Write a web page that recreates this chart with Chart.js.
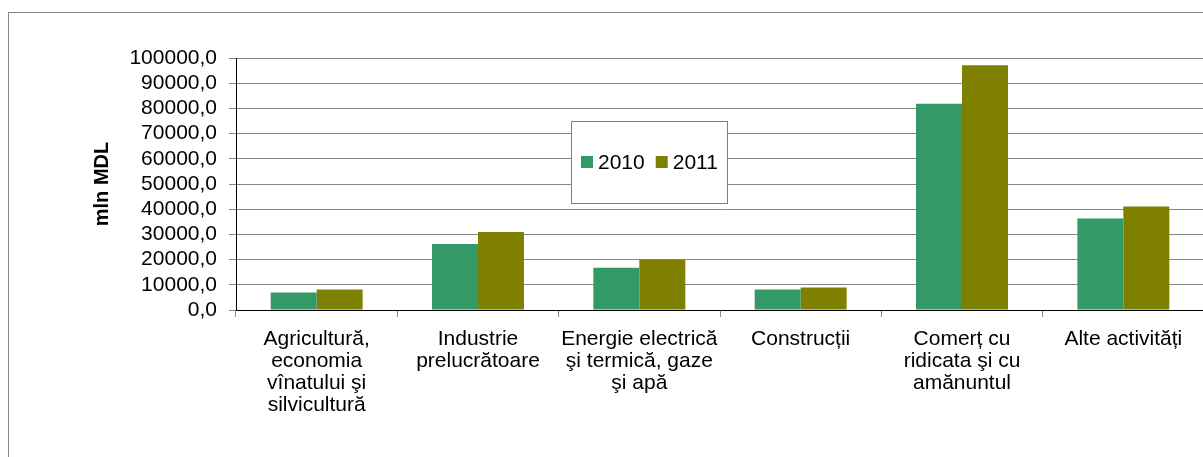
<!DOCTYPE html>
<html>
<head>
<meta charset="utf-8">
<script src="https://cdn.jsdelivr.net/npm/chart.js@4"></script>
<style>
  html, body { margin: 0; padding: 0; background: #fff; overflow: hidden; }
  #frame { position: absolute; left: 8px; top: 12px; width: 1300px; height: 600px;
           border-left: 1px solid #888; border-top: 1px solid #888; }
  #wrap { position: absolute; left: 0; top: 0; width: 1215px; height: 457px; }
</style>
</head>
<body>
<div id="frame"></div>
<div id="wrap"><canvas id="myChart"></canvas></div>
<script>
const categories = [
  ['Agricultură,', 'economia', 'vînatului şi', 'silvicultură'],
  ['Industrie', 'prelucrătoare'],
  ['Energie electrică', 'şi termică, gaze', 'şi apă'],
  ['Construcții'],
  ['Comerț cu', 'ridicata şi cu', 'amănuntul'],
  ['Alte activități']
];
const values2010 = [6900, 26200, 16800, 8100, 81800, 36300];
const values2011 = [8100, 31000, 19900, 8900, 97100, 41100];
const yTicks = [0, 10000, 20000, 30000, 40000, 50000, 60000, 70000, 80000, 90000, 100000];

// legend box drawn inside the plot, like the original
const boxLegend = {
    id: 'boxLegend',
    afterDraw(chart) {
        const ctx = chart.ctx;
        const x = 571, y = 121, w = 156, h = 82;
        ctx.save();
        ctx.fillStyle = '#fff';
        ctx.fillRect(x, y, w, h);
        ctx.strokeStyle = '#808080';
        ctx.lineWidth = 1;
        ctx.strokeRect(x + 0.5, y + 0.5, w, h);
        ctx.font = '21px "Liberation Sans", Arial, sans-serif';
        ctx.textBaseline = 'middle';
        let cx = x + 10;
        const cy = y + 41;
        chart.data.datasets.forEach(ds => {
            ctx.fillStyle = ds.backgroundColor;
            ctx.fillRect(cx, cy - 6, 12, 12);
            ctx.fillStyle = '#000';
            ctx.fillText(ds.label, cx + 17, cy + 1);
            cx += 17 + ctx.measureText(ds.label).width + 11;
        });
        ctx.restore();
    }
};

function drawChart()
{
    const data = {
        labels: categories,
        datasets: [
            { label: '2010', data: values2010, backgroundColor: '#339966', borderWidth: 0 },
            { label: '2011', data: values2011, backgroundColor: '#808000', borderWidth: 0 }
        ]
    };

    const config = {
        type: 'bar',
        data: data,
        plugins: [boxLegend],
        options: {
            responsive: true,
            maintainAspectRatio: false,
            animation: false,
            categoryPercentage: 0.57,
            barPercentage: 1.0,
            layout: { padding: { left: 0, top: 58, right: 11, bottom: 0 } },
            plugins: {
                legend: { display: false },
                tooltip: { enabled: false }
            },
            scales: {
                x: {
                    grid: { offset: true, drawOnChartArea: false, tickLength: 7, color: '#888' },
                    border: { color: '#000', width: 1 },
                    ticks: {
                        font: { size: 21, family: '"Liberation Sans", Arial, sans-serif', lineHeight: 1.05 },
                        color: '#000',
                        padding: 11,
                        maxRotation: 0,
                        autoSkip: false
                    },
                    afterFit: s => { s.height = 147; }
                },
                y: {
                    min: 0,
                    max: 100000,
                    afterBuildTicks: s => { s.ticks = yTicks.map(v => ({ value: v })); },
                    grid: { tickLength: 7, color: '#868686' },
                    border: { color: '#000', width: 1 },
                    ticks: {
                        font: { size: 21, family: '"Liberation Sans", Arial, sans-serif' },
                        color: '#000',
                        padding: 12,
                        autoSkip: false,
                        callback: v => v.toFixed(1).replace('.', ',')
                    },
                    title: {
                        display: true,
                        text: 'mln MDL',
                        color: '#000',
                        font: { size: 20, weight: 'bold', family: '"Liberation Sans", Arial, sans-serif' },
                        padding: { top: 90, bottom: 0 }
                    },
                    afterFit: s => { s.width = 236; }
                }
            }
        }
    };

    const myChart = new Chart(document.getElementById('myChart'), config);
}

window.onload = drawChart;
</script>
</body>
</html>
